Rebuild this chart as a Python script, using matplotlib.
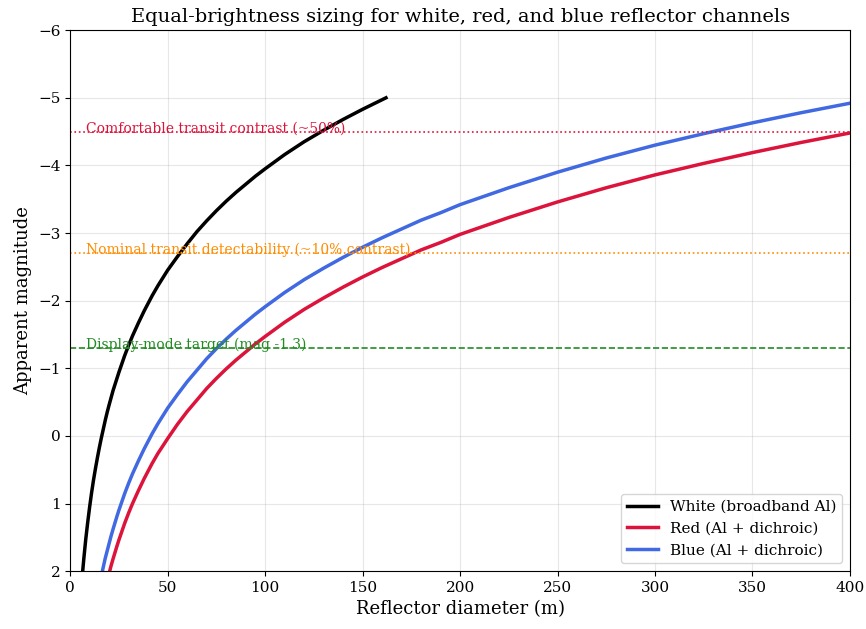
import matplotlib
matplotlib.use("Agg")
import matplotlib.pyplot as plt

plt.rcParams["font.family"] = ["DejaVu Serif"]

# values (diameter in m, apparent magnitude)
white_d = [6.5, 7, 8, 9, 10, 11, 12, 13, 14, 15, 16, 17, 18, 19, 20, 22, 25,
           28, 30, 32, 35, 38, 40, 42, 45, 50, 55, 60, 65, 70, 75, 80, 85, 90,
           95, 100, 110, 120, 130, 140, 150, 162]
white_mag = [1.98, 1.82, 1.53, 1.28, 1.05, 0.84, 0.65, 0.48, 0.32, 0.17, 0.03,
             -0.10, -0.23, -0.35, -0.46, -0.67, -0.94, -1.19, -1.34, -1.48,
             -1.67, -1.85, -1.96, -2.07, -2.22, -2.45, -2.65, -2.84, -3.02,
             -3.18, -3.33, -3.47, -3.60, -3.72, -3.84, -3.95, -4.16, -4.35,
             -4.52, -4.68, -4.83, -5.00]

red_d = [20, 21, 22, 24, 25, 28, 30, 32, 35, 38, 40, 42, 45, 50, 55, 60, 65,
         70, 75, 80, 85, 90, 95, 100, 110, 120, 130, 140, 150, 160, 170, 180,
         190, 200, 225, 250, 275, 300, 325, 350, 375, 400]
red_mag = [2.03, 1.92, 1.82, 1.63, 1.54, 1.29, 1.14, 1.00, 0.81, 0.63, 0.52,
           0.41, 0.26, 0.04, -0.17, -0.36, -0.53, -0.70, -0.85, -0.99, -1.12,
           -1.24, -1.36, -1.47, -1.68, -1.87, -2.04, -2.20, -2.35, -2.49,
           -2.62, -2.75, -2.86, -2.98, -3.23, -3.46, -3.67, -3.86, -4.03,
           -4.19, -4.34, -4.48]

blue_d = [16, 17, 18, 19, 20, 21, 22, 24, 25, 28, 30, 32, 35, 38, 40, 42, 45,
          50, 55, 60, 65, 70, 75, 80, 85, 90, 95, 100, 110, 120, 130, 140, 150,
          160, 170, 180, 190, 200, 225, 250, 275, 300, 325, 350, 375, 400]
blue_mag = [2.07, 1.94, 1.81, 1.70, 1.59, 1.48, 1.38, 1.19, 1.10, 0.85, 0.70,
            0.56, 0.37, 0.19, 0.08, -0.03, -0.18, -0.41, -0.61, -0.80, -0.97,
            -1.14, -1.29, -1.43, -1.56, -1.68, -1.80, -1.91, -2.12, -2.31,
            -2.48, -2.64, -2.79, -2.93, -3.06, -3.19, -3.30, -3.42, -3.67,
            -3.90, -4.11, -4.30, -4.47, -4.63, -4.78, -4.92]

# reference levels
targets = [
    (-4.5, "Comfortable transit contrast (~50%)", "crimson", ":"),
    (-2.7, "Nominal transit detectability (~10% contrast)", "darkorange", ":"),
    (-1.3, "Display-mode target (mag -1.3)", "forestgreen", "--"),
]

fig, ax = plt.subplots(figsize=(8.66, 6.29), dpi=100)
fig.subplots_adjust(left=0.081, right=0.9815, top=0.952, bottom=0.092)

ax.plot(white_d, white_mag, color="black", lw=2.5, label="White (broadband Al)")
ax.plot(red_d, red_mag, color="crimson", lw=2.5, label="Red (Al + dichroic)")
ax.plot(blue_d, blue_mag, color="royalblue", lw=2.5, label="Blue (Al + dichroic)")

for mag, text, color, ls in targets:
    ax.axhline(mag, color=color, ls=ls, lw=1.2)
    ax.text(8, mag - 0.05, text, color=color, fontsize=10, va="center")

ax.set_xlim(0, 400)
ax.set_ylim(2, -6)
ax.set_xlabel("Reflector diameter (m)", fontsize=13)
ax.set_ylabel("Apparent magnitude", fontsize=13)
ax.set_title("Equal-brightness sizing for white, red, and blue reflector channels", fontsize=14)
ax.tick_params(labelsize=11)
ax.grid(True, alpha=0.3)
ax.legend(loc="lower right", fontsize=11)

fig.savefig("out.png")
